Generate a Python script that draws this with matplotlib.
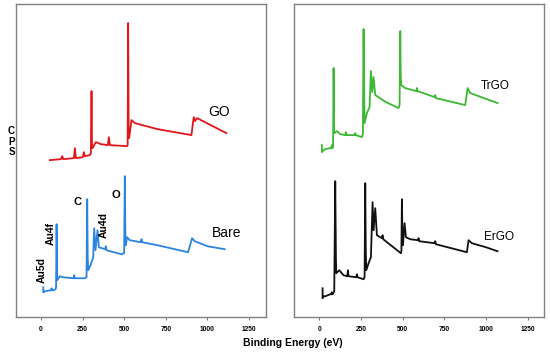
import numpy as np
from matplotlib import pyplot as plt

plt.rcParams['font.family'] = ['Liberation Sans', 'DejaVu Sans']

# XPS survey spectra, binding energy (eV) vs counts (arbitrary units)
go_be = [54, 120, 128, 134, 198, 204, 210, 252, 258, 264, 294, 300, 304, 307, 310, 330, 360,
         402, 408, 414, 518, 521, 524, 527, 530, 544, 564, 700, 904, 918, 926, 938, 1114]
go_cps = [157, 158, 161, 158, 159, 169, 159, 160, 165, 161, 162, 164, 226, 170, 169, 175, 173,
          172, 180, 172, 171, 172, 294, 190, 179, 197, 194, 188, 182, 200, 196, 199, 184]

bare_be = [14, 14, 16, 24, 60, 64, 68, 74, 88, 91, 94, 97, 98, 114, 134, 196, 200, 204, 264,
           274, 278, 281, 284, 298, 314, 320, 328, 340, 348, 386, 390, 394, 484, 500, 504, 507,
           510, 518, 534, 600, 604, 608, 700, 884, 908, 924, 1000, 1104]
bare_cps = [30, 25, 25, 26, 27, 29, 27, 27, 28, 30, 93, 45, 37, 41, 40, 39, 42, 39, 39,
            40, 118, 60, 47, 52, 60, 89, 67, 87, 70, 68, 71, 67, 63, 64, 141, 85, 72, 80, 77,
            75, 78, 75, 72, 65, 79, 76, 71, 68]

trgo_be = [16, 16, 20, 36, 66, 72, 76, 80, 83, 86, 89, 90, 106, 126, 156, 160, 164, 212, 216,
           220, 256, 262, 266, 270, 272, 286, 302, 310, 318, 326, 336, 400, 476, 482, 486, 489,
           492, 516, 582, 586, 590, 692, 696, 700, 876, 890, 906, 1070]
trgo_cps = [172, 165, 166, 168, 169, 169, 172, 169, 172, 249, 195, 184, 186, 183, 182, 185,
            182, 182, 184, 182, 180, 183, 288, 220, 194, 204, 210, 246, 225, 240, 222, 215,
            209, 212, 286, 240, 232, 229, 226, 229, 226, 220, 222, 219, 212, 229, 224, 214]

ergo_be = [20, 20, 24, 36, 66, 72, 76, 80, 90, 96, 100, 102, 120, 146, 168, 172, 176, 222,
           226, 230, 266, 272, 276, 279, 282, 296, 310, 320, 326, 336, 346, 376, 380, 384,
           490, 493, 496, 499, 502, 512, 520, 546, 592, 596, 600, 692, 696, 700, 886, 896,
           916, 1000, 1070]
ergo_cps = [29, 19, 21, 21, 23, 23, 25, 23, 26, 136, 60, 44, 47, 42, 41, 47, 41, 40,
            43, 40, 38, 40, 134, 70, 47, 54, 60, 115, 87, 109, 82, 79, 82, 78,
            64, 66, 118, 85, 72, 94, 80, 78, 77, 79, 76, 74, 76, 73, 65, 77,
            74, 70, 66]

xticks = [0, 250, 500, 750, 1000, 1250]

fig = plt.figure(figsize=(5.5, 3.54), dpi=100)
ax1 = fig.add_axes([0.029, 0.1037, 0.454, 0.885])
ax2 = fig.add_axes([0.535, 0.1037, 0.4545, 0.885])

ax1.plot(go_be, go_cps, color='#e3161b', lw=1.3)
ax1.plot(bare_be, bare_cps, color='#2a84e0', lw=1.3)
ax2.plot(trgo_be, trgo_cps, color='#3cb834', lw=1.3)
ax2.plot(ergo_be, ergo_cps, color='#111111', lw=1.3)

for ax in (ax1, ax2):
    ax.set_xlim(-150, 1350)
    ax.set_ylim(0, 313)
    ax.set_xticks(xticks)
    ax.set_xticklabels([str(t) for t in xticks], fontsize=4.8, fontweight='bold')
    ax.set_yticks([])
    ax.tick_params(axis='x', length=2.5, width=0.8, color='#808080', pad=4)
    for s in ax.spines.values():
        s.set_color('#808080')
        s.set_linewidth(1.0)

# sample names
ax1.text(1068, 205, 'GO', fontsize=10, ha='center', va='center')
ax1.text(1114, 84, 'Bare', fontsize=10, ha='center', va='center')
ax2.text(1056, 231, 'TrGO', fontsize=8.5, ha='center', va='center')
ax2.text(1080, 80, 'ErGO', fontsize=8.5, ha='center', va='center')

# peak labels
ax1.text(4, 47, 'Au5d', fontsize=7.5, fontweight='bold', rotation=90, ha='center', va='center')
ax1.text(58, 84, 'Au4f', fontsize=7.5, fontweight='bold', rotation=90, ha='center', va='center')
ax1.text(378, 92, 'Au4d', fontsize=7.5, fontweight='bold', rotation=90, ha='center', va='center')
ax1.text(220, 115, 'C', fontsize=8, fontweight='bold', ha='center', va='center')
ax1.text(450, 122, 'O', fontsize=8, fontweight='bold', ha='center', va='center')

fig.text(0.533, 0.031, 'Binding Energy (eV)', fontsize=7.5, fontweight='bold', ha='center', va='center')
fig.text(0.021, 0.600, 'C\nP\nS', fontsize=7, fontweight='bold', ha='center', va='center', linespacing=1.1)

fig.savefig('out.png', dpi=100)
